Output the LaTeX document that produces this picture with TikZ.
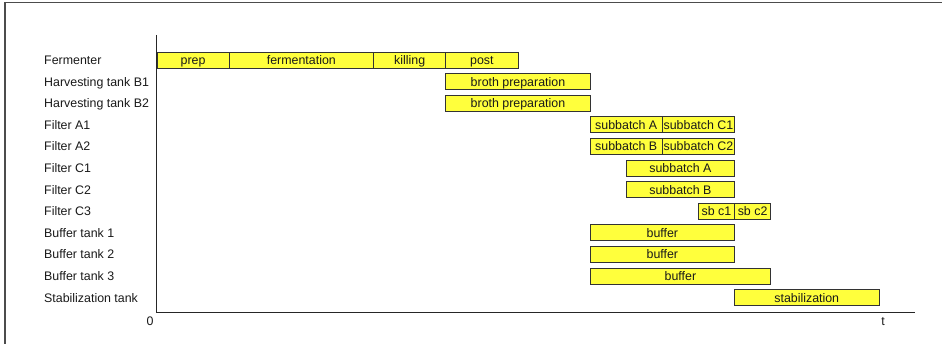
\documentclass[tikz,border=0pt]{standalone}
\usepackage{fontspec}
\setmainfont{Liberation Sans}
\definecolor{barfill}{HTML}{FFFF3C}
\definecolor{edge}{HTML}{333333}
% one Gantt bar: name, row, start, duration, text
\newcommand\ganttbar[5]{%
  \node[bar, minimum width={#4*36.1pt}] (#1) at ({156.5+#3*36.1}, {60+21.6*#2}) {#5};}
\newcommand\rowname[3]{%
  \node[rowlabel] (#1) at (44, {60+21.6*#2}) {#3};}
\begin{document}
\begin{tikzpicture}[x=1pt, y=-1pt,
  txt/.style={font=\fontsize{12.4}{14}\selectfont, text=black!90,
    text height=10.6pt, text depth=1.4pt},
  bar/.style={txt, draw=edge, fill=barfill, line width=0.9pt,
    minimum height=16pt, inner sep=0pt, anchor=west},
  rowlabel/.style={txt, anchor=west, inner sep=0pt},
  axis/.style={draw=black!85, line width=0.9pt}]
\useasboundingbox (0,0) rectangle (942,344);

% outer frame (top and left edges)
\draw[line width=1.3pt, black!70] (5,344) -- (5,2.5) -- (942,2.5);

% axes
\coordinate (ytop) at (156.5,35);
\coordinate (origin) at (156.5,312);
\coordinate (xend) at (915,312);
\draw[axis] (ytop) -- (origin) -- (xend);
\node[txt] (zero) at (150,321) {0};
\node[txt] (tlab) at (883,321) {t};

% resources
\rowname{r0}{0}{Fermenter}
\rowname{r1}{1}{Harvesting tank B1}
\rowname{r2}{2}{Harvesting tank B2}
\rowname{r3}{3}{Filter A1}
\rowname{r4}{4}{Filter A2}
\rowname{r5}{5}{Filter C1}
\rowname{r6}{6}{Filter C2}
\rowname{r7}{7}{Filter C3}
\rowname{r8}{8}{Buffer tank 1}
\rowname{r9}{9}{Buffer tank 2}
\rowname{r10}{10}{Buffer tank 3}
\rowname{r11}{11}{Stabilization tank}

% tasks
\ganttbar{prep}{0}{0}{2}{prep}
\ganttbar{ferm}{0}{2}{4}{fermentation}
\ganttbar{kill}{0}{6}{2}{killing}
\ganttbar{post}{0}{8}{2}{post}
\ganttbar{brothA}{1}{8}{4}{broth preparation}
\ganttbar{brothB}{2}{8}{4}{broth preparation}
\ganttbar{aOne}{3}{12}{2}{subbatch A}
\ganttbar{cOne}{3}{14}{2}{subbatch C1}
\ganttbar{aTwo}{4}{12}{2}{subbatch B}
\ganttbar{cTwo}{4}{14}{2}{subbatch C2}
\ganttbar{fcOne}{5}{13}{3}{subbatch A}
\ganttbar{fcTwo}{6}{13}{3}{subbatch B}
\ganttbar{sbOne}{7}{15}{1}{sb c1}
\ganttbar{sbTwo}{7}{16}{1}{sb c2}
\ganttbar{bufOne}{8}{12}{4}{buffer}
\ganttbar{bufTwo}{9}{12}{4}{buffer}
\ganttbar{bufThree}{10}{12}{5}{buffer}
\ganttbar{stab}{11}{16}{4}{stabilization}
\end{tikzpicture}
\end{document}
